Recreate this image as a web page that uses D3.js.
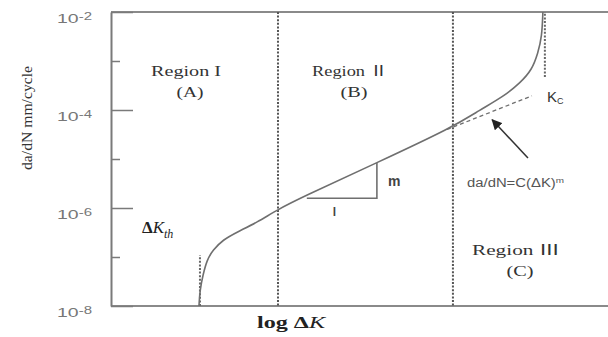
<!DOCTYPE html>
<html>
<head>
<meta charset="utf-8">
<script src="https://cdn.jsdelivr.net/npm/d3@7"></script>
<style>
  body { margin: 0; background: #fff; }
  svg { display: block; }
</style>
</head>
<body>
<svg width="608" height="337"></svg>
<script>
// crack growth curve (log dK, da/dN)
const logDK = [1.77, 1.79, 1.85, 1.93, 2.05, 2.25, 2.54, 2.94, 3.34, 3.80, 5.34, 6.88, 7.42, 7.89, 8.23, 8.47, 8.59, 8.67, 8.69]
const rate = [1e-8, 2.14e-8, 4.27e-8, 8.7e-8, 1.38e-7, 2.24e-7, 3.24e-7, 5.1e-7, 9.1e-7, 1.58e-6, 8.3e-6, 4.47e-5, 1.0e-4, 1.86e-4, 3.55e-4, 6.6e-4, 1.45e-3, 3.1e-3, 1e-2]

// Paris law extension (dashed)
const parisDK = [6.76, 8.47]
const parisRate = [4.0e-5, 1.95e-4]

// region borders and thresholds
const regionBorders = [3.36, 6.88]
const thresholdDK = [1.79, 8.73]          // dK_th, K_c
const thresholdTop = [1.1e-7, 1e-2]
const thresholdBottom = [1e-8, 4.7e-4]

// slope triangle: corners
const triDK = [3.94, 5.35, 5.35]
const triRate = [1.58e-6, 1.58e-6, 8.3e-6]

// arrow from formula to dashed line
const arrowDK = [8.39, 7.67]
const arrowRate = [1.05e-5, 6.3e-5]

const majorTicks = [1e-8, 1e-6, 1e-4, 1e-2]
const minorTicks = [1e-7, 1e-5, 1e-3]
const tickExp = ["-8", "-6", "-4", "-2"]

const regionNames = ["Region I", "Region Ⅱ", "Region Ⅲ"]
const regionLetters = ["(A)", "(B)", "(C)"]

const svg = d3.select("svg")
const width = +svg.attr("width")
const height = +svg.attr("height")

const x = d3.scaleLinear().domain([0, 10]).range([111, 608])
const y = d3.scaleLog().domain([1e-8, 1e-2]).range([306, 12])

const gray = "#6f6f6f"

// frame
svg.append("line")
  .attr("x1", x(0)).attr("x2", width)
  .attr("y1", y(1e-2)).attr("y2", y(1e-2))
  .attr("stroke", "#8a8a8a").attr("stroke-width", 2)
svg.append("line")
  .attr("x1", x(0)).attr("x2", width)
  .attr("y1", y(1e-8)).attr("y2", y(1e-8))
  .attr("stroke", "#8a8a8a").attr("stroke-width", 2)

// y axis, major + minor ticks point inward
const yAxis = svg.append("g")
  .attr("transform", `translate(${x(0)},0)`)
  .call(d3.axisLeft(y).tickValues(majorTicks).tickSize(-22).tickSizeOuter(0).tickPadding(19))
yAxis.select(".domain").attr("stroke", "#7a7a7a").attr("stroke-width", 2)
yAxis.selectAll(".tick line").attr("stroke", "#7a7a7a").attr("stroke-width", 1.5)
yAxis.selectAll(".tick text").each(function(d, i) {
  const t = d3.select(this).text(null)
    .attr("dy", null).attr("y", 10)
    .attr("font-family", "Liberation Sans, Arial, sans-serif")
    .attr("fill", "#777")
    .attr("text-anchor", "end")
    .attr("font-size", 13)
    .attr("textLength", 35).attr("lengthAdjust", "spacingAndGlyphs")
  t.append("tspan").text("10")
  t.append("tspan").text(tickExp[i]).attr("font-size", 10).attr("dy", -3)
})

svg.append("g")
  .attr("transform", `translate(${x(0)},0)`)
  .call(d3.axisLeft(y).tickValues(minorTicks).tickSize(-9).tickSizeOuter(0).tickFormat(""))
  .call(g => g.select(".domain").remove())
  .selectAll(".tick line").attr("stroke", "#7a7a7a").attr("stroke-width", 1.5)

// y label
svg.append("text")
  .attr("transform", `translate(32,118) rotate(-90)`)
  .attr("text-anchor", "middle")
  .attr("font-family", "Liberation Serif, Times New Roman, serif")
  .attr("font-size", 14)
  .attr("fill", "#333")
  .attr("textLength", 104).attr("lengthAdjust", "spacingAndGlyphs")
  .text("da/dN mm/cycle")

// x label
const xl = svg.append("text")
  .attr("x", 257).attr("y", 328)
  .attr("font-family", "Liberation Serif, Times New Roman, serif")
  .attr("font-weight", "bold")
  .attr("font-size", 16)
  .attr("fill", "#222")
  .attr("textLength", 68).attr("lengthAdjust", "spacingAndGlyphs")
xl.append("tspan").text("log Δ")
xl.append("tspan").text("K").attr("font-style", "italic").attr("font-weight", "normal")

// region borders
svg.selectAll(".border")
  .data(regionBorders)
  .join("line")
  .attr("x1", d => x(d)).attr("x2", d => x(d))
  .attr("y1", y(1e-2)).attr("y2", y(1e-8))
  .attr("stroke", "#555").attr("stroke-width", 2)
  .attr("stroke-dasharray", "2,1.6")

// threshold dotted marks
svg.selectAll(".thr")
  .data(thresholdDK)
  .join("line")
  .attr("x1", d => x(d)).attr("x2", d => x(d))
  .attr("y1", (d, i) => y(thresholdBottom[i])).attr("y2", (d, i) => y(thresholdTop[i]))
  .attr("stroke", "#666").attr("stroke-width", 2)
  .attr("stroke-dasharray", "2,1.6")

// Paris line
svg.append("path")
  .datum(d3.zip(parisDK, parisRate))
  .attr("d", d3.line().x(d => x(d[0])).y(d => y(d[1])))
  .attr("fill", "none")
  .attr("stroke", gray).attr("stroke-width", 1.3)
  .attr("stroke-dasharray", "4,3")

// growth curve
svg.append("path")
  .datum(d3.zip(logDK, rate))
  .attr("d", d3.line().x(d => x(d[0])).y(d => y(d[1])).curve(d3.curveBasis))
  .attr("fill", "none")
  .attr("stroke", gray).attr("stroke-width", 1.6)

// slope triangle
svg.append("path")
  .datum(d3.zip(triDK, triRate))
  .attr("d", d3.line().x(d => x(d[0])).y(d => y(d[1])))
  .attr("fill", "none")
  .attr("stroke", gray).attr("stroke-width", 1.6)

svg.append("text")
  .attr("x", x(triDK[1]) + 11).attr("y", y(triRate[1]) - 12)
  .attr("font-family", "Liberation Sans, Arial, sans-serif")
  .attr("font-weight", "bold").attr("font-size", 14).attr("fill", "#444")
  .text("m")
svg.append("text")
  .attr("x", x((triDK[0] + triDK[1]) / 2) - 9).attr("y", y(triRate[0]) + 18)
  .attr("font-family", "Liberation Sans, Arial, sans-serif")
  .attr("font-weight", "bold").attr("font-size", 12).attr("fill", "#444")
  .text("l")

// arrow
svg.append("defs").append("marker")
  .attr("id", "head")
  .attr("viewBox", "0 0 10 10")
  .attr("refX", 9).attr("refY", 5)
  .attr("markerWidth", 7).attr("markerHeight", 7)
  .attr("orient", "auto")
  .append("path").attr("d", "M0,0L10,5L0,10z").attr("fill", "#222")
svg.append("path")
  .datum(d3.zip(arrowDK, arrowRate))
  .attr("d", d3.line().x(d => x(d[0])).y(d => y(d[1])))
  .attr("stroke", "#333").attr("stroke-width", 1.5)
  .attr("marker-end", "url(#head)")

// formula
const f = svg.append("text")
  .attr("x", 467).attr("y", 187)
  .attr("font-family", "Liberation Sans, Arial, sans-serif")
  .attr("font-size", 12).attr("fill", "#555")
  .attr("textLength", 97).attr("lengthAdjust", "spacingAndGlyphs")
f.append("tspan").text("da/dN=C(ΔK)")
f.append("tspan").text("m").attr("font-size", 8).attr("dy", -4)

// Kc
const kc = svg.append("text")
  .attr("x", 547).attr("y", 102)
  .attr("font-family", "Liberation Sans, Arial, sans-serif")
  .attr("font-size", 15).attr("fill", "#333")
kc.append("tspan").text("K")
kc.append("tspan").text("C").attr("font-size", 9).attr("dy", 2)

// dK_th
const th = svg.append("text")
  .attr("x", 142).attr("y", 233)
  .attr("font-family", "Liberation Serif, Times New Roman, serif")
  .attr("font-size", 17).attr("fill", "#222")
th.append("tspan").text("Δ").attr("font-weight", "bold")
th.append("tspan").text("K").attr("font-style", "italic")
th.append("tspan").text("th").attr("font-style", "italic").attr("font-size", 12).attr("dy", 5)

// region labels
const regionX = [186, 350, 516]
const regionY = [76, 76, 255]
regionNames.forEach((name, i) => {
  svg.append("text")
    .attr("x", regionX[i]).attr("y", regionY[i])
    .attr("text-anchor", "middle")
    .attr("font-family", "Liberation Serif, Noto Sans CJK SC, serif")
    .attr("font-size", 15).attr("fill", "#333")
    .attr("textLength", [70, 76, 88][i]).attr("lengthAdjust", "spacingAndGlyphs")
    .text(name)
  svg.append("text")
    .attr("x", regionX[i] + 4).attr("y", regionY[i] + 21)
    .attr("text-anchor", "middle")
    .attr("font-family", "Liberation Serif, Noto Sans CJK SC, serif")
    .attr("font-size", 15).attr("fill", "#333")
    .attr("textLength", 27).attr("lengthAdjust", "spacingAndGlyphs")
    .text(regionLetters[i])
})
</script>
</body>
</html>
